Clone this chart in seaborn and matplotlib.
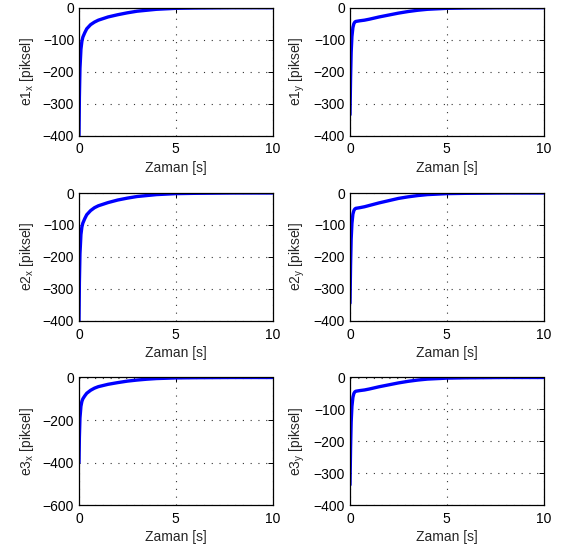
import matplotlib
matplotlib.use("Agg")
import matplotlib.pyplot as plt
import seaborn as sns
import pandas as pd

# Time samples (s) and error signals (pixels) for the three feature points
t_x = [0, 0.02, 0.05, 0.1, 0.15, 0.2, 0.3, 0.4, 0.6, 0.8, 1.0, 1.5, 2.0, 2.5,
       3.0, 3.5, 4.0, 5.0, 6.0, 8.0, 10.0]
e1_x = [-400, -280, -190, -130, -105, -92, -78, -66, -53, -45, -39, -29, -22,
        -16, -11, -8, -5, -2, -1, 0, 0]
e2_x = [-400, -280, -190, -130, -106, -94, -80, -68, -55, -46, -40, -30, -22,
        -16, -11, -8, -5, -2, -1, 0, 0]
e3_x = [-400, -280, -190, -135, -112, -100, -86, -74, -60, -50, -43, -32, -24,
        -17, -12, -8, -5, -2, -1, 0, 0]

t_y = [0, 0.03, 0.06, 0.1, 0.15, 0.2, 0.25, 0.3, 0.5, 0.75, 1.0, 1.5, 2.0,
       2.5, 3.0, 3.5, 4.0, 5.0, 6.0, 8.0, 10.0]
e1_y = [-335, -220, -140, -90, -62, -50, -45, -43, -41, -39, -36, -29, -23,
        -17, -12, -8, -5, -2, -1, 0, 0]
e2_y = [-345, -225, -145, -95, -66, -55, -50, -48, -46, -43, -39, -31, -24,
        -17, -12, -8, -5, -2, -1, 0, 0]
e3_y = [-336, -220, -140, -90, -62, -50, -45, -43, -41, -39, -36, -29, -23,
        -17, -12, -8, -5, -2, -1, 0, 0]

labels = [["e1$_{x}$ [piksel]", "e1$_{y}$ [piksel]"],
          ["e2$_{x}$ [piksel]", "e2$_{y}$ [piksel]"],
          ["e3$_{x}$ [piksel]", "e3$_{y}$ [piksel]"]]
series = [[(t_x, e1_x), (t_y, e1_y)],
          [(t_x, e2_x), (t_y, e2_y)],
          [(t_x, e3_x), (t_y, e3_y)]]
ylims = [[(-400, 0), (-400, 0)],
         [(-400, 0), (-400, 0)],
         [(-600, 0), (-400, 0)]]
yticks = [[[-400, -300, -200, -100, 0], [-400, -300, -200, -100, 0]],
          [[-400, -300, -200, -100, 0], [-400, -300, -200, -100, 0]],
          [[-600, -400, -200, 0], [-400, -300, -200, -100, 0]]]
xticks = [0, 5, 10]

sns.set_style("white")
plt.rcParams["font.family"] = ["Liberation Sans", "DejaVu Sans"]
plt.rcParams["mathtext.default"] = "regular"
plt.rcParams["font.size"] = 10
plt.rcParams["axes.unicode_minus"] = True

W, H = 563, 554
fig = plt.figure(figsize=(W / 100, H / 100), dpi=100)

col_left = [79, 350]
col_width = 193.5
row_top = [7.7, 193.0, 377.5]
row_height = 127.8

for r in range(3):
    for c in range(2):
        ax = fig.add_axes([col_left[c] / W,
                           1 - (row_top[r] + row_height) / H,
                           col_width / W,
                           row_height / H])
        tt, vv = series[r][c]
        df = pd.DataFrame({"t": tt, "e": vv})
        sns.lineplot(data=df, x="t", y="e", ax=ax, color="#0000ff",
                     linewidth=2.4, solid_joinstyle="round")
        ax.set_xlim(0, 10)
        ax.set_ylim(*ylims[r][c])
        ax.set_xticks(xticks)
        ax.set_yticks(yticks[r][c])
        ax.set_xlabel("Zaman [s]", labelpad=3)
        ax.set_ylabel(labels[r][c], labelpad=5)
        ax.grid(True, linestyle=(0, (1, 6)), color="#333333", linewidth=0.8)
        ax.tick_params(axis="both", direction="in", length=3.5, width=0.7,
                       top=True, right=True, colors="black", labelsize=10)
        ax.tick_params(axis="x", pad=5)
        ax.tick_params(axis="y", pad=3.5)
        for sp in ax.spines.values():
            sp.set_visible(True)
            sp.set_color("black")
            sp.set_linewidth(0.9)

fig.savefig("out.png", dpi=100, facecolor="white")
